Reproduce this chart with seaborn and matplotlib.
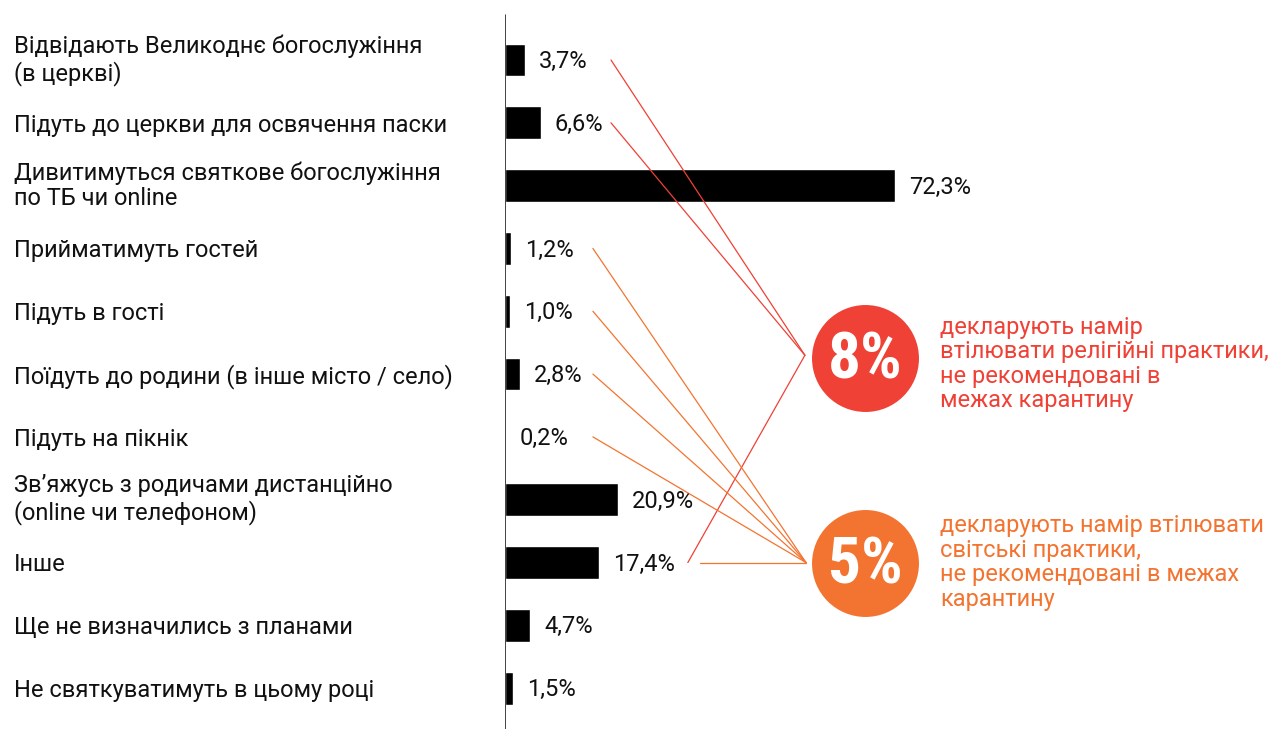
import pandas as pd
import matplotlib.pyplot as plt
import matplotlib.transforms as mtransforms
import seaborn as sns

# Easter plans survey
categories = [
    'Відвідають Великоднє богослужіння\n(в церкві)',
    'Підуть до церкви для освячення паски',
    'Дивитимуться святкове богослужіння\nпо ТБ чи online',
    'Прийматимуть гостей',
    'Підуть в гості',
    'Поїдуть до родини (в інше місто / село)',
    'Підуть на пікнік',
    'Зв’яжусь з родичами дистанційно\n(online чи телефоном)',
    'Інше',
    'Ще не визначились з планами',
    'Не святкуватимуть в цьому році',
]
values = [3.7, 6.6, 72.3, 1.2, 1.0, 2.8, 0.2, 20.9, 17.4, 4.7, 1.5]

religious_rows = [0, 1, 8]
secular_rows = [3, 4, 5, 6, 8]
religious_share = '8%'
secular_share = '5%'
religious_text = 'декларують намір\nвтілювати релігійні практики,\nне рекомендовані в\nмежах карантину'
secular_text = 'декларують намір втілювати\nсвітські практики,\nне рекомендовані в межах\nкарантину'

RED = '#EF4136'
ORANGE = '#F37430'

df = pd.DataFrame({'cat': categories, 'val': values})

sns.set_style('white')
plt.rcParams['font.family'] = ['Roboto', 'DejaVu Sans']

fig = plt.figure(figsize=(12.76, 7.29), dpi=100)
ax = fig.add_axes([505 / 1276, 0, 1 - 505 / 1276, 1])

sns.barplot(data=df, x='val', y='cat', orient='h', color='black',
            width=0.52, saturation=1, ax=ax)

ax.set_xlim(0, 771 / 5.394)
ax.set_ylim(10.65, -0.955)
for s in ax.spines.values():
    s.set_visible(False)
ax.axvline(0, ymin=0, ymax=1 - 15 / 729, color='#222222', lw=1.2)
ax.set_xticks([])
ax.set_yticks([])
ax.set_xlabel('')
ax.set_ylabel('')

# category labels on the left
trans = mtransforms.blended_transform_factory(fig.transFigure, ax.transData)
for i, c in enumerate(categories):
    dy = 0 if '\n' in c else 0.035
    ax.text(14 / 1276, i + dy, c, transform=trans, ha='left', va='center',
            fontsize=17, color='#111111', linespacing=1.15)

# value labels
for i, v in enumerate(values):
    ax.text(v + 2.6, i + 0.025, f'{v:.1f}'.replace('.', ',') + '%', ha='left',
            va='center', fontsize=17, color='#111111')

# connectors
red_c = (66.74, 4.745)
org_c = (66.74, 8.0)
red_join = (55.6, 4.70)
org_join = (55.8, 8.0)
for r in religious_rows:
    x0 = 33.9 if r == 8 else 19.65
    ax.plot([x0, red_join[0]], [r, red_join[1]], color=RED, lw=0.9)
for r in secular_rows:
    x0 = 36.15 if r == 8 else 16.3
    ax.plot([x0, org_join[0]], [r, org_join[1]], color=ORANGE, lw=0.9)

# circles with shares and notes
for (cx, cy), ty, col, lab, txt in [
        (red_c, 4.84, RED, religious_share, religious_text),
        (org_c, 8.0, ORANGE, secular_share, secular_text)]:
    ax.plot(cx, cy, 'o', markersize=77, color=col, markeredgewidth=0)
    ax.text(cx, cy + 0.05, lab, ha='center', va='center', color='white',
            fontsize=47, fontweight='bold',
            family=['Roboto Condensed', 'Roboto', 'DejaVu Sans'])
    ax.text(80.65, ty, txt, ha='left', va='center', color=col,
            fontsize=17, linespacing=1.08)

fig.savefig('out.png', dpi=100)
